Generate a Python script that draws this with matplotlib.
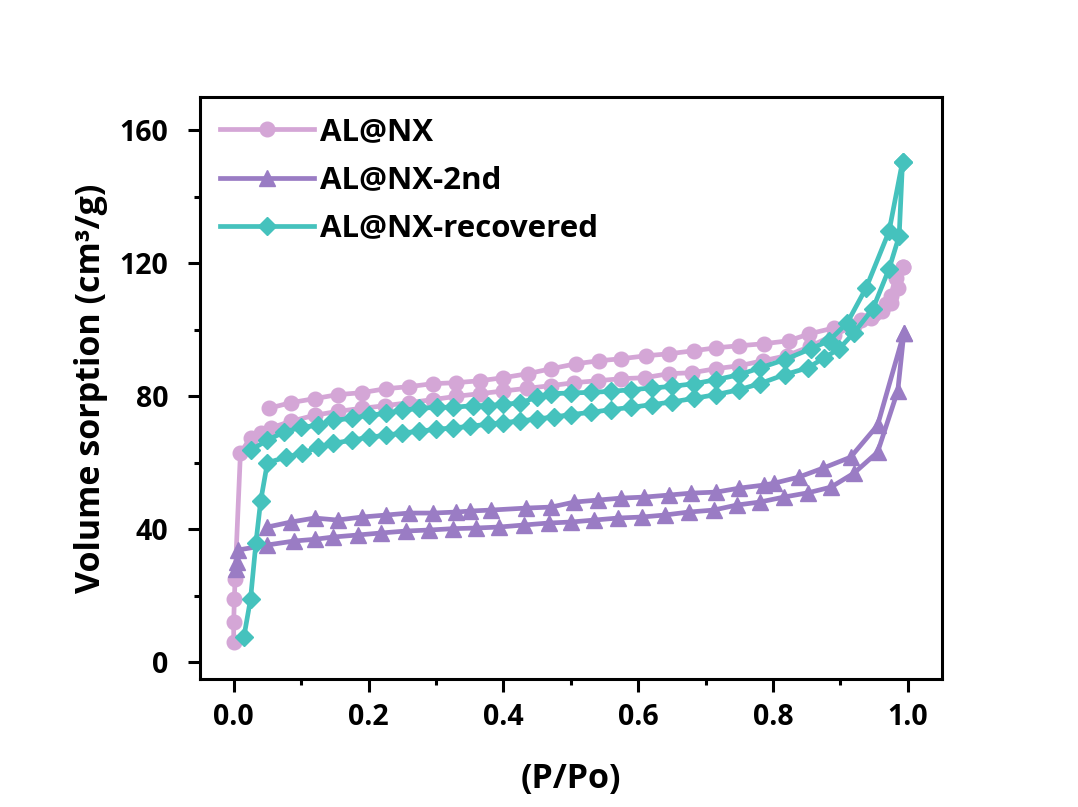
import matplotlib
matplotlib.use("Agg")
import matplotlib.pyplot as plt
from matplotlib.ticker import MultipleLocator

plt.rcParams['font.family'] = ['Open Sans', 'DejaVu Sans']
plt.rcParams['font.weight'] = 'bold'

# AL@NX (adsorption then desorption)
al_ads_x = [0.0, 0.0, 0.001, 0.002, 0.01, 0.025, 0.04, 0.055, 0.085, 0.12, 0.155, 0.19, 0.225,
            0.26, 0.295, 0.33, 0.365, 0.40, 0.435, 0.47, 0.505, 0.54, 0.575, 0.61, 0.645, 0.68,
            0.715, 0.75, 0.785, 0.82, 0.855, 0.89, 0.92, 0.945, 0.962, 0.975, 0.985, 0.992]
al_ads_y = [6, 12, 19, 25, 63, 67.5, 69, 70.5, 72.5, 74.3, 75.5, 76.4, 77.2,
            78.1, 79.0, 80.0, 80.8, 81.6, 82.4, 83.2, 84.1, 84.7, 85.3, 85.6, 86.8, 87.1,
            88.3, 89.2, 90.7, 92.2, 95.0, 98.5, 101.0, 103.6, 105.7, 108.0, 112.6, 119.0]
al_des_x = [0.992, 0.982, 0.975, 0.967, 0.95, 0.93, 0.891, 0.854, 0.823, 0.786, 0.749, 0.716,
            0.682, 0.646, 0.612, 0.575, 0.542, 0.508, 0.471, 0.436, 0.40, 0.366, 0.33, 0.295,
            0.26, 0.226, 0.19, 0.154, 0.12, 0.085, 0.052]
al_des_y = [119.0, 115.6, 110.2, 107.8, 104.8, 103.0, 100.6, 98.8, 96.7, 95.8, 95.2, 94.6,
            93.7, 92.8, 92.2, 91.3, 90.7, 89.8, 88.3, 86.8, 85.6, 84.7, 84.1, 83.8,
            82.9, 82.3, 81.1, 80.5, 79.3, 78.1, 76.4]

# AL@NX-2nd
nd_ads_x = [0.003, 0.005, 0.007, 0.05, 0.09, 0.12, 0.148, 0.184, 0.218, 0.256, 0.29, 0.325,
            0.36, 0.394, 0.43, 0.467, 0.5, 0.535, 0.57, 0.605, 0.639, 0.675, 0.712, 0.746,
            0.78, 0.816, 0.852, 0.886, 0.92, 0.955, 0.985, 0.994]
nd_ads_y = [28, 30.3, 33.8, 35.3, 36.5, 37.0, 37.7, 38.3, 38.9, 39.5, 39.8, 40.2,
            40.4, 40.7, 41.3, 41.9, 42.2, 42.8, 43.4, 43.7, 44.3, 45.2, 45.8, 47.3,
            48.2, 49.7, 51.0, 52.7, 56.9, 63.2, 81.7, 99.0]
nd_des_x = [0.994, 0.955, 0.915, 0.874, 0.838, 0.802, 0.786, 0.75, 0.716, 0.679, 0.645, 0.609,
            0.575, 0.54, 0.505, 0.471, 0.434, 0.382, 0.35, 0.33, 0.296, 0.26, 0.226, 0.19,
            0.154, 0.12, 0.085, 0.05]
nd_des_y = [99.0, 71.3, 61.7, 58.4, 55.7, 53.9, 53.3, 52.4, 51.2, 50.9, 50.3, 49.7,
            49.4, 48.8, 48.2, 46.7, 46.4, 45.8, 45.5, 45.2, 44.9, 44.9, 44.3, 43.7,
            42.8, 43.4, 42.2, 40.7]

# AL@NX-recovered
rc_ads_x = [0.015, 0.025, 0.033, 0.04, 0.05, 0.077, 0.102, 0.125, 0.148, 0.176, 0.2, 0.226,
            0.25, 0.275, 0.30, 0.326, 0.35, 0.377, 0.40, 0.425, 0.45, 0.475, 0.5, 0.53, 0.56,
            0.59, 0.62, 0.65, 0.683, 0.715, 0.75, 0.78, 0.817, 0.852, 0.875, 0.898, 0.92,
            0.948, 0.972, 0.987, 0.992]
rc_ads_y = [7.5, 19, 36, 48.5, 60, 61.7, 62.9, 64.7, 65.9, 66.8, 67.7, 68.3,
            69.0, 69.5, 70.1, 70.5, 71.0, 71.6, 72.1, 72.6, 73.2, 73.8, 74.5, 75.2, 76.0,
            76.7, 77.5, 78.3, 79.4, 80.5, 82.0, 83.8, 86.5, 88.6, 91.5, 94.3, 99.1,
            106.3, 118.3, 128.2, 150.6]
rc_des_x = [0.992, 0.972, 0.938, 0.91, 0.883, 0.856, 0.817, 0.78, 0.75, 0.715, 0.683, 0.65,
            0.62, 0.59, 0.56, 0.53, 0.5, 0.471, 0.45, 0.425, 0.40, 0.377, 0.355, 0.326, 0.302,
            0.275, 0.25, 0.226, 0.2, 0.176, 0.148, 0.125, 0.1, 0.074, 0.05, 0.025]
rc_des_y = [150.6, 129.6, 112.6, 102.1, 96.7, 94.3, 91.0, 88.5, 86.5, 85.0, 83.8, 83.0,
            82.5, 82.0, 81.5, 81.2, 81.0, 80.8, 79.8, 78.0, 77.6, 77.2, 77.2, 76.7, 76.7,
            76.4, 75.8, 74.9, 74.3, 73.4, 72.8, 71.3, 70.7, 69.2, 66.8, 63.8]

fig = plt.figure(figsize=(10.78, 8.07), dpi=100)
ax = fig.add_axes([0.1855, 0.1586, 0.688, 0.7212])

ax.plot(al_ads_x + al_des_x, al_ads_y + al_des_y, color='#d4a6d6', marker='o',
        markersize=10.5, linewidth=3.4, label='AL@NX')
ax.plot(nd_ads_x + nd_des_x, nd_ads_y + nd_des_y, color='#9a7cc4', marker='^',
        markersize=11.5, linewidth=3.4, label='AL@NX-2nd')
ax.plot(rc_ads_x + rc_des_x, rc_ads_y + rc_des_y, color='#45c2bd', marker='D',
        markersize=9.5, linewidth=3.4, label='AL@NX-recovered')

ax.set_xlim(-0.05, 1.05)
ax.set_ylim(-5, 170)
ax.xaxis.set_major_locator(MultipleLocator(0.2))
ax.xaxis.set_minor_locator(MultipleLocator(0.1))
ax.yaxis.set_major_locator(MultipleLocator(40))
ax.yaxis.set_minor_locator(MultipleLocator(20))
ax.tick_params(which='major', direction='out', length=9, width=2.2, labelsize=20.5)
ax.tick_params(axis='y', which='major', pad=14)
ax.tick_params(axis='x', which='major', pad=8)
ax.tick_params(which='minor', direction='out', length=4.5, width=2.2)
for s in ax.spines.values():
    s.set_linewidth(2.2)

ax.set_xlabel('(P/Po)', fontsize=24.5, fontweight='bold', labelpad=22)
ax.set_ylabel('Volume sorption (cm³/g)', fontsize=24.5, fontweight='bold', labelpad=8)

ax.legend(loc='upper left', frameon=False, fontsize=22.5, handlelength=3.0,
          handletextpad=0.2, labelspacing=0.58, borderaxespad=0.25,
          bbox_to_anchor=(0.0, 1.0))

fig.savefig('out.png', dpi=100)
